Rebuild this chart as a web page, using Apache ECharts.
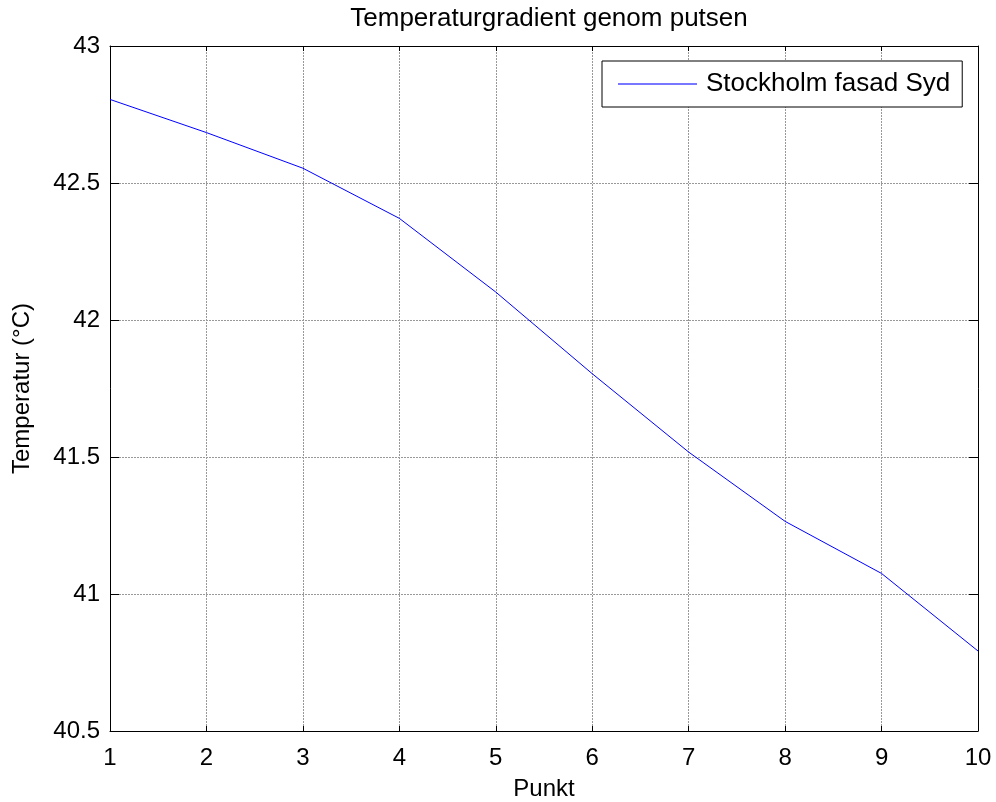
<!DOCTYPE html>
<html>
<head>
<meta charset="utf-8">
<script src="https://cdn.jsdelivr.net/npm/echarts@6/dist/echarts.min.js"></script>
<style>
  html, body { margin: 0; padding: 0; background: #ffffff; }
  #chart { width: 996px; height: 802px; }
</style>
</head>
<body>
<div id="chart"></div>
<script>
// Measurement points through the render layer and their temperatures (°C)
const punkt = [1, 2, 3, 4, 5, 6, 7, 8, 9, 10];
const temperatur = [42.805, 42.684, 42.554, 42.371, 42.102, 41.804, 41.518, 41.265, 41.075, 40.792];
const seriesName = 'Stockholm fasad Syd';
const titleText = 'Temperaturgradient genom putsen';
const xName = 'Punkt';
const yName = 'Temperatur (°C)';

const FONT = 'Liberation Sans';
const FS = 24;
const FS_BIG = 26;

const chart = echarts.init(document.getElementById('chart'), null, { renderer: 'canvas' });

const boxAxisLine = { show: true, lineStyle: { color: '#000', width: 1 } };
const gridLine = { show: true, lineStyle: { color: '#999999', type: [2, 1], width: 1 } };

chart.setOption({
  animation: false,
  backgroundColor: '#ffffff',
  textStyle: { fontFamily: FONT, color: '#000' },
  title: {
    text: titleText,
    left: 544,
    top: 1,
    textAlign: 'center',
    textStyle: { fontFamily: FONT, fontSize: FS_BIG, fontWeight: 'normal', color: '#000' }
  },
  legend: {
    left: 602,
    top: 61,
    padding: [10, 12, 10, 16],
    itemWidth: 79,
    itemHeight: 2,
    itemGap: 0,
    backgroundColor: '#ffffff',
    borderColor: '#000',
    borderWidth: 1,
    borderRadius: 0,
    textStyle: { fontFamily: FONT, fontSize: FS_BIG, color: '#000', lineHeight: 26, padding: [0, 0, 0, 4] },
    data: [{ name: seriesName, icon: 'rect', itemStyle: { color: '#7777ff' } }]
  },
  grid: { left: 110, right: 18, top: 46, bottom: 71, containLabel: false, outerBoundsMode: 'none' },
  xAxis: [
    {
      type: 'value', position: 'bottom', min: 1, max: 10, interval: 1,
      name: xName, nameLocation: 'middle', nameGap: 46,
      nameTextStyle: { fontFamily: FONT, fontSize: FS, color: '#000' },
      axisLine: boxAxisLine,
      axisTick: { show: true, inside: true, length: 5, lineStyle: { color: '#000' } },
      axisLabel: { fontFamily: FONT, fontSize: FS, color: '#000', margin: 15 },
      splitLine: gridLine
    },
    {
      type: 'value', position: 'top', min: 1, max: 10, interval: 1,
      axisLine: boxAxisLine,
      axisTick: { show: true, inside: true, length: 5, lineStyle: { color: '#000' } },
      axisLabel: { show: false },
      splitLine: { show: false }
    }
  ],
  yAxis: [
    {
      type: 'value', position: 'left', min: 40.5, max: 43, interval: 0.5,
      name: yName, nameLocation: 'middle', nameGap: 76,
      nameTextStyle: { fontFamily: FONT, fontSize: FS, color: '#000' },
      axisLine: boxAxisLine,
      axisTick: { show: true, inside: true, length: 9, lineStyle: { color: '#000' } },
      axisLabel: { fontFamily: FONT, fontSize: FS, color: '#000', margin: 10 },
      splitLine: gridLine
    },
    {
      type: 'value', position: 'right', min: 40.5, max: 43, interval: 0.5,
      axisLine: boxAxisLine,
      axisTick: { show: true, inside: true, length: 9, lineStyle: { color: '#000' } },
      axisLabel: { show: false },
      splitLine: { show: false }
    }
  ],
  series: [
    {
      name: seriesName,
      type: 'line',
      xAxisIndex: 0,
      yAxisIndex: 0,
      symbol: 'none',
      lineStyle: { color: '#0000ff', width: 1 },
      itemStyle: { color: '#0000ff' },
      data: punkt.map((p, i) => [p, temperatur[i]])
    }
  ]
});
</script>
</body>
</html>
